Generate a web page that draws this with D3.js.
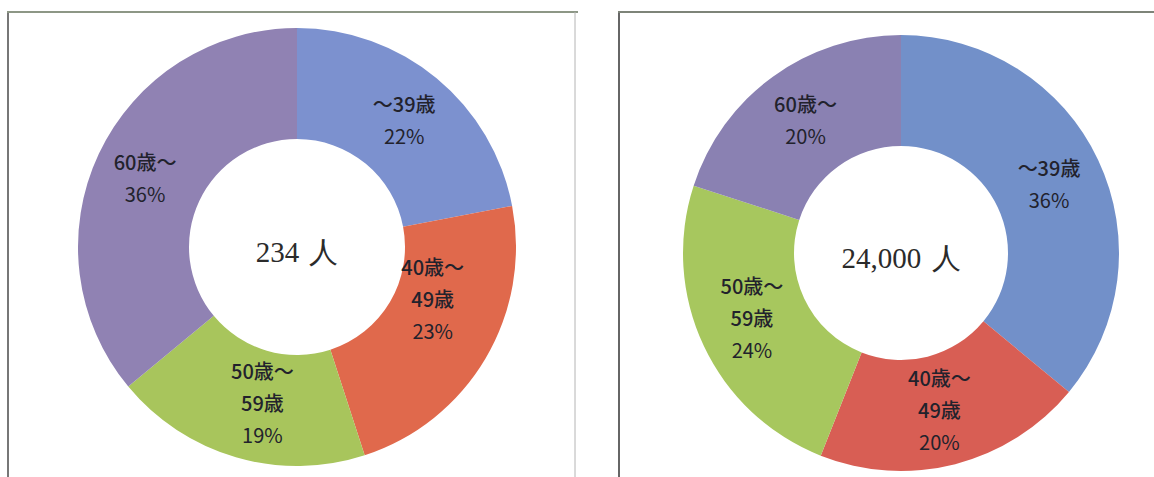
<!DOCTYPE html>
<html>
<head>
<meta charset="utf-8">
<script src="https://cdn.jsdelivr.net/npm/d3@7"></script>
<style>
  html, body { margin: 0; padding: 0; background: #ffffff; }
  svg { display: block; }
</style>
</head>
<body>
<svg id="chart" width="1154" height="477"></svg>
<script>
// ---- data ----
const categories = ["～39歳", "40歳～\n49歳", "50歳～\n59歳", "60歳～"];
const leftValues = [22, 23, 19, 36];
const rightValues = [36, 20, 24, 20];
const leftTotal = "234 人";
const rightTotal = "24,000 人";

// ---- layout / styles ----
const W = 1154, H = 477;
const svg = d3.select("#chart");

const leftColors = ["#7c91cf", "#e0694c", "#a8c55c", "#9082b3"];
const rightColors = ["#7290c9", "#d85e54", "#a7c75e", "#8a81b2"];

const charts = [
  { values: leftValues, total: leftTotal, colors: leftColors, cx: 297, cy: 247, r: 219, ri: 108,
    nudges: [[3, 0], [-5, -30], [11, 0], [-4, 2]] },
  { values: rightValues, total: rightTotal, colors: rightColors, cx: 901, cy: 253, r: 218, ri: 107,
    nudges: [[1, 1], [-2, 1], [-2, -3], [0, -1]] }
];

// frames
const frame = svg.append("g");
frame.append("line").attr("x1", 8).attr("y1", 12).attr("x2", 8).attr("y2", H)
  .attr("stroke", "#777").attr("stroke-width", 2);
frame.append("line").attr("x1", 7).attr("y1", 12).attr("x2", 578).attr("y2", 12)
  .attr("stroke", "#8d9786").attr("stroke-width", 2);
frame.append("line").attr("x1", 575).attr("y1", 12).attr("x2", 575).attr("y2", H)
  .attr("stroke", "#b4b4b4").attr("stroke-width", 1);
frame.append("line").attr("x1", 619).attr("y1", 12).attr("x2", 619).attr("y2", H)
  .attr("stroke", "#666").attr("stroke-width", 2);
frame.append("line").attr("x1", 618).attr("y1", 12).attr("x2", W).attr("y2", 12)
  .attr("stroke", "#7e8479").attr("stroke-width", 2);

const pie = d3.pie().sort(null).value(d => d);

charts.forEach((c, ci) => {
  const g = svg.append("g").attr("transform", `translate(${c.cx},${c.cy})`);
  const arc = d3.arc().innerRadius(c.ri).outerRadius(c.r);
  const arcs = pie(c.values);

  g.selectAll("path.slice").data(arcs).enter().append("path")
    .attr("class", "slice")
    .attr("d", arc)
    .attr("fill", (d, i) => c.colors[i]);

  const lineH = 32;
  arcs.forEach((d, i) => {
    const [x, y] = arc.centroid(d);
    const lines = categories[i].split("\n").concat([c.values[i] + "%"]);
    const nx = x + c.nudges[i][0], ny = y + c.nudges[i][1];
    const t = g.append("text")
      .attr("text-anchor", "middle")
      .attr("font-family", "'Noto Sans CJK JP', 'Noto Sans', sans-serif")
      .attr("font-size", 20)
      .attr("fill", "#22222c");
    lines.forEach((ln, k) => {
      t.append("tspan")
        .attr("x", nx)
        .attr("y", ny + (k - (lines.length - 1) / 2) * lineH)
        .attr("dy", "0.35em")
        .attr("font-weight", k === lines.length - 1 ? 400 : 500)
        .text(ln);
    });
  });

  g.append("text")
    .attr("x", 0).attr("y", 8)
    .attr("text-anchor", "middle")
    .attr("dominant-baseline", "middle")
    .attr("font-family", "'Liberation Serif', 'DejaVu Serif', serif")
    .attr("font-size", 29)
    .attr("fill", "#2b2b2b")
    .attr("word-spacing", 3)
    .text(c.total);
});
</script>
</body>
</html>
